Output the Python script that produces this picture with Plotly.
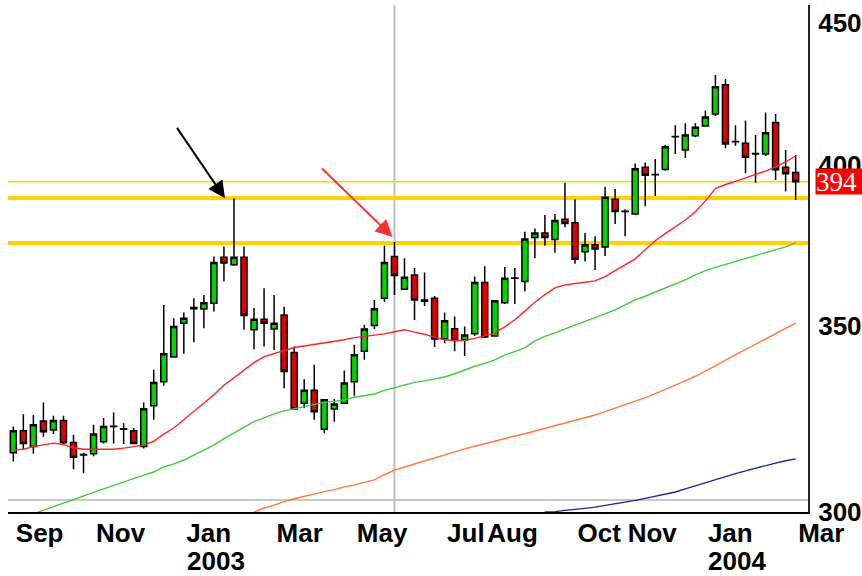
import math
import pandas as pd
import plotly.graph_objects as go

# ---------------- data ----------------
dates = pd.date_range("2002-09-06", periods=79, freq="7D")

opens = [314.5, 320.3, 316.1, 322.9, 320.5, 323.0, 317.2, 313.9, 314.2, 317.4,
         321.4, 320.7, 320.3, 316.1, 327.0, 333.6, 340.5, 350.2, 354.4, 354.3,
         356.0, 369.9, 367.6, 369.9, 348.3, 351.3, 348.5, 352.6, 341.8, 327.7,
         331.2, 320.7, 326.1, 327.7, 333.6, 342.1, 349.5, 357.5, 370.1, 360.2,
         364.5, 357.0, 357.5, 345.6, 348.6, 345.4, 347.1, 362.2, 346.5, 356.2,
         363.5, 362.5, 376.0, 377.4, 375.4, 381.7, 380.6, 371.6, 373.7, 373.0,
         388.1, 384.2, 383.4, 398.6, 396.1, 397.8, 408.8, 404.3, 409.1, 412.4,
         416.6, 426.8, 407.1, 406.6, 403.0, 403.0, 413.6, 398.6, 396.8]
highs = [321.4, 324.7, 324.5, 327.9, 324.3, 324.3, 319.2, 314.5, 321.9, 323.7,
         325.2, 322.3, 321.0, 327.9, 336.9, 355.5, 351.6, 353.3, 357.5, 358.5,
         370.1, 373.2, 388.4, 373.2, 354.6, 360.5, 358.5, 355.0, 343.5, 334.3,
         338.3, 328.8, 328.8, 336.7, 344.0, 349.7, 357.0, 373.4, 374.6, 369.6,
         366.6, 365.2, 358.2, 353.3, 352.1, 349.2, 364.0, 367.1, 357.0, 366.9,
         366.6, 377.8, 378.8, 383.1, 383.4, 393.5, 388.1, 377.4, 376.4, 392.2,
         391.4, 384.9, 399.8, 400.1, 401.3, 406.0, 412.7, 413.4, 413.4, 417.8,
         430.3, 428.8, 412.7, 414.3, 409.4, 417.1, 416.6, 404.3, 402.6]
lows = [312.2, 315.2, 314.2, 318.7, 319.4, 316.5, 310.2, 309.2, 313.6, 316.9,
        316.9, 316.8, 316.7, 315.6, 323.2, 332.5, 340.3, 341.4, 344.7, 348.7,
        353.6, 362.5, 367.3, 348.3, 342.7, 343.5, 342.5, 331.8, 325.9, 326.4,
        323.2, 319.6, 322.7, 327.5, 329.7, 339.7, 348.5, 356.5, 358.5, 360.0,
        351.1, 355.2, 343.3, 344.4, 342.1, 340.8, 346.5, 345.9, 346.3, 355.8,
        355.8, 359.5, 369.6, 373.4, 371.3, 379.2, 367.9, 368.6, 366.0, 370.3,
        380.2, 376.4, 383.1, 385.9, 389.2, 397.4, 403.0, 401.6, 408.6, 412.2,
        415.9, 404.9, 405.7, 396.6, 393.5, 402.3, 394.4, 390.6, 387.9]
closes = [320.3, 316.9, 321.9, 320.0, 323.0, 317.1, 313.3, 314.0, 319.4, 321.4,
          321.5, 320.8, 316.9, 326.2, 333.4, 341.4, 349.2, 351.6, 354.8, 356.2,
          368.3, 368.1, 369.9, 352.4, 351.3, 350.2, 350.2, 336.4, 326.1, 331.2,
          325.4, 328.6, 327.5, 333.2, 341.1, 348.5, 354.4, 368.3, 364.3, 363.8,
          357.0, 356.6, 345.6, 350.9, 345.2, 346.8, 362.2, 346.2, 356.8, 363.5,
          363.6, 375.5, 377.4, 376.0, 381.3, 380.4, 369.3, 373.7, 372.4, 388.8,
          384.2, 384.3, 398.1, 395.9, 396.2, 405.4, 408.9, 409.4, 412.0, 415.5,
          426.1, 406.3, 407.2, 401.9, 403.1, 410.1, 397.7, 396.4, 393.8]

ma_red = [315.2, 315.4, 316.1, 316.5, 317.0, 316.6, 315.8, 315.4, 315.4, 315.4,
          315.4, 315.7, 316.1, 316.5, 317.5, 319.4, 321.0, 323.2, 325.4, 327.8,
          330.0, 332.6, 334.7, 336.7, 338.9, 340.6, 341.4, 342.3, 343.2, 343.6,
          344.0, 344.5, 344.9, 345.4, 346.0, 346.3, 346.7, 347.1, 347.7, 348.3,
          347.6, 347.0, 346.1, 345.4, 345.2, 345.2, 345.8, 346.5, 347.4, 349.1,
          351.2, 353.7, 356.3, 358.6, 360.6, 361.5, 362.0, 362.3, 362.7, 364.0,
          365.8, 367.5, 369.4, 372.2, 375.0, 377.2, 379.4, 381.5, 384.1, 387.6,
          391.6, 392.9, 393.9, 395.0, 396.0, 397.3, 398.7, 400.3, 402.3]
ma_green = [297.2, 298.1, 299.0, 299.9, 300.8, 301.6, 302.5, 303.4, 304.3, 305.2,
            306.1, 307.0, 307.8, 308.7, 309.5, 310.8, 311.6, 312.6, 313.9, 315.2,
            316.5, 318.2, 319.7, 321.3, 322.7, 323.7, 324.8, 325.6, 326.2, 326.7,
            327.4, 327.9, 328.2, 328.6, 329.3, 329.7, 330.2, 331.2, 332.0, 332.7,
            333.4, 333.8, 334.4, 334.9, 335.8, 336.9, 337.9, 338.7, 339.7, 341.0,
            342.0, 343.1, 345.1, 346.4, 347.4, 348.4, 349.6, 350.7, 351.7, 352.9,
            354.1, 355.5, 357.0, 358.1, 359.3, 360.6, 361.8, 363.0, 364.5, 365.8,
            366.8, 367.7, 368.5, 369.4, 370.3, 371.2, 372.2, 373.1, 374.3]
ma_orange = [None] * 24 + [
            299.4, 300.4, 301.1, 302.0, 302.7, 303.3, 304.0, 304.5, 305.0, 305.7,
            306.2, 306.8, 307.5, 308.8, 310.0, 310.8, 311.6, 312.3, 313.1, 313.9,
            314.7, 315.5, 316.2, 316.9, 317.5, 318.2, 318.9, 319.5, 320.2, 320.9,
            321.6, 322.3, 322.9, 323.7, 324.5, 325.4, 326.3, 327.3, 328.2, 329.2,
            330.3, 331.4, 332.6, 333.8, 335.1, 336.5, 338.0, 339.6, 341.1, 342.5,
            344.0, 345.4, 347.0, 348.6, 350.2]
ma_navy = [None] * 53 + [
            299.4, 299.5, 299.8, 300.0, 300.3, 300.6, 301.0, 301.4, 301.9, 302.3,
            302.8, 303.3, 303.8, 304.4, 305.2, 306.0, 306.7, 307.6, 308.3, 309.1,
            309.8, 310.5, 311.1, 311.8, 312.4, 312.9]

month_ticks = ["2002-09-06", "2002-11-01", "2003-01-03", "2003-03-07", "2003-05-02",
               "2003-07-04", "2003-08-01", "2003-10-03", "2003-11-07", "2004-01-02",
               "2004-03-05"]
month_labels = ["Sep", "Nov", "Jan", "Mar", "May", "Jul", "Aug", "Oct", "Nov", "Jan", "Mar"]
year_ticks = ["2003-01-03", "2004-01-02"]
year_labels = ["2003", "2004"]
price_ticks = [300, 350, 400, 450]

resistance_levels = [388.5, 374.3]
marker_level = 302.4
marker_date = "2003-05-30"
arrow_bars = [22, 38]

# ---------------- layout helpers ----------------
FIG_W, FIG_H = 862, 576
MARGIN = dict(l=8, r=54, t=5, b=64)
FONT = "Liberation Sans, Arial, sans-serif"
FONT_SIZE = 26
LABEL_SHIFT = 24  # uniform pixel shift of month labels to the right
# approximate Arial Bold advance widths (em) to left-align month labels on their bar
_BOLD_W = {"S": .667, "e": .556, "p": .611, "N": .722, "o": .611, "v": .556, "J": .556,
           "a": .556, "n": .611, "M": .833, "r": .389, "y": .556, "u": .611, "l": .278,
           "A": .722, "g": .611, "O": .778, "c": .556, "t": .333}

week = pd.Timedelta(days=7)
x0 = dates[0] - 0.53 * week
x1 = dates[-1] + 1.23 * week
plot_w = FIG_W - MARGIN["l"] - MARGIN["r"]
px_per_week = plot_w / ((x1 - x0) / week)

tick_pos = []
for d, lab in zip(month_ticks, month_labels):
    w = sum(_BOLD_W.get(ch, .6) for ch in lab) * FONT_SIZE
    off_px = 2.5 + w / 2 - LABEL_SHIFT
    tick_pos.append(pd.Timestamp(d) + (off_px / px_per_week) * week)

# ---------------- figure ----------------
fig = go.Figure()

for vals, col in [(ma_navy, "#22229a"), (ma_orange, "#ff7a3a"),
                  (ma_green, "#3ccc3c"), (ma_red, "#ff2424")]:
    fig.add_trace(go.Scatter(x=dates, y=vals, mode="lines",
                             line=dict(color=col, width=1.4),
                             hoverinfo="skip", showlegend=False))

fig.add_trace(go.Candlestick(
    x=dates, open=opens, high=highs, low=lows, close=closes,
    increasing=dict(line=dict(color="black", width=1.5), fillcolor="#00d400"),
    decreasing=dict(line=dict(color="black", width=1.5), fillcolor="#e00000"),
    whiskerwidth=0, showlegend=False, hoverinfo="skip"))

shapes = []
# gray marker lines (shape coordinates on a log axis are data values)
shapes.append(dict(type="line", xref="paper", x0=0, x1=1, yref="y",
                   y0=marker_level, y1=marker_level,
                   line=dict(color="#c8c8c8", width=2), layer="below"))
shapes.append(dict(type="line", xref="x", x0=marker_date, x1=marker_date, yref="paper",
                   y0=0, y1=1, line=dict(color="#c0c0c0", width=2), layer="below"))
# yellow level lines
for lv in resistance_levels:
    shapes.append(dict(type="line", xref="paper", x0=0, x1=1, yref="y",
                       y0=lv, y1=lv,
                       line=dict(color="#ffd200", width=4), layer="below"))
shapes.append(dict(type="line", xref="paper", x0=0, x1=1, yref="y",
                   y0=closes[-1], y1=closes[-1],
                   line=dict(color="#ffd700", width=1.5), layer="below"))

tickfont = dict(family=FONT, size=FONT_SIZE, color="black", weight="bold")

annotations = []
for d, t in zip(year_ticks, year_labels):
    annotations.append(dict(xref="x", x=d, yref="paper", y=0, yanchor="top", xanchor="left",
                            xshift=1, yshift=-32, text=t, showarrow=False, font=tickfont))

# last price label
annotations.append(dict(xref="paper", x=1, xanchor="left", xshift=7, yref="y",
                        y=math.log10(closes[-1]), yanchor="middle",
                        text=f"{closes[-1]:.0f}", showarrow=False,
                        font=dict(family="Liberation Serif, Times New Roman, serif", size=27, color="white"),
                        bgcolor="#ff0000", width=54, height=25, align="left", borderpad=0))

# arrows
annotations.append(dict(xref="x", x=dates[arrow_bars[0]], yref="y",
                        y=math.log10(highs[arrow_bars[0]]), xshift=-9, yshift=0,
                        ax=-49, ay=-72, text="", showarrow=True, arrowhead=2,
                        arrowsize=1.7, arrowwidth=2, arrowcolor="black"))
annotations.append(dict(xref="x", x=dates[arrow_bars[1]], yref="y",
                        y=math.log10(highs[arrow_bars[1]]), xshift=-2, yshift=5,
                        ax=-72, ay=-70, text="", showarrow=True, arrowhead=2,
                        arrowsize=1.7, arrowwidth=2, arrowcolor="#ff3030"))

fig.update_layout(
    width=FIG_W, height=FIG_H,
    margin=MARGIN,
    paper_bgcolor="white", plot_bgcolor="white",
    showlegend=False, boxgap=0.4, boxgroupgap=0,
    shapes=shapes, annotations=annotations,
    xaxis=dict(type="date", range=[x0, x1], showgrid=False, zeroline=False,
               showline=True, linecolor="black", linewidth=2, automargin=False,
               tickmode="array", tickvals=tick_pos, ticktext=month_labels,
               ticks="", tickfont=tickfont, tickangle=0,
               ticklabelshift=LABEL_SHIFT, ticklabelstandoff=-3,
               rangeslider=dict(visible=False), fixedrange=True),
    yaxis=dict(type="log", side="right", automargin=False,
               range=[math.log10(299.4), math.log10(456.0)],
               showgrid=False, zeroline=False, showline=True,
               linecolor="#222222", linewidth=2,
               tickmode="array", tickvals=price_ticks,
               ticktext=[str(v) for v in price_ticks],
               ticks="", tickfont=tickfont, ticklabelstandoff=3,
               ticklabelshift=2, fixedrange=True),
)

fig.write_html("out.html", config={"displayModeBar": False},
               post_script="document.body.style.margin='0px';")
